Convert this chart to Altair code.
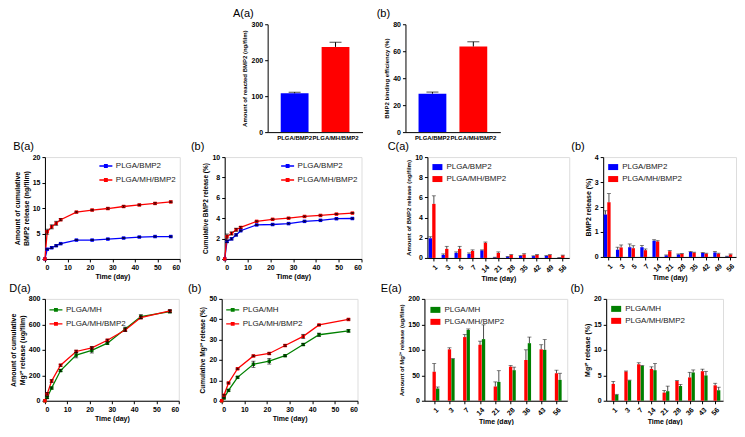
import altair as alt
import pandas as pd

FONT = "Liberation Sans"
BLUE = "#0000ff"
RED = "#ff0000"
GREEN = "#008000"

# ---------------- Panel A ----------------
a_groups = ["PLGA/BMP2", "PLGA/MH/BMP2"]
a_amount = [108, 237]
a_amount_err = [3, 13]
a_eff = [28.5, 63.5]
a_eff_err = [1.2, 3.5]

# ---------------- Panel B ----------------
b_days = [0, 1, 3, 5, 7, 14, 21, 28, 35, 42, 49, 56]
b_amt_plga = [0, 1.9, 2.2, 2.6, 3.0, 3.7, 3.7, 3.9, 4.1, 4.3, 4.4, 4.4]
b_amt_plga_err = [0, 0.1, 0.15, 0.15, 0.1, 0.1, 0.1, 0.1, 0.1, 0.1, 0.1, 0.1]
b_amt_mh = [0, 5.35, 6.3, 7.0, 7.7, 9.2, 9.6, 9.9, 10.3, 10.6, 10.9, 11.2]
b_amt_mh_err = [0, 0.5, 0.4, 0.4, 0.2, 0.15, 0.15, 0.15, 0.15, 0.15, 0.15, 0.15]
b_pct_plga = [0, 1.72, 1.97, 2.36, 2.77, 3.34, 3.38, 3.47, 3.69, 3.79, 3.95, 3.97]
b_pct_plga_err = [0, 0.1, 0.1, 0.1, 0.05, 0.05, 0.05, 0.05, 0.05, 0.05, 0.05, 0.05]
b_pct_mh = [0, 2.2, 2.5, 2.87, 3.09, 3.69, 3.89, 4.0, 4.17, 4.27, 4.4, 4.5]
b_pct_mh_err = [0, 0.25, 0.15, 0.15, 0.1, 0.05, 0.05, 0.05, 0.05, 0.05, 0.05, 0.05]

# ---------------- Panel C ----------------
c_days = [1, 3, 5, 7, 14, 21, 28, 35, 42, 49, 56]
c_amt_plga = [1.95, 0.3, 0.5, 0.4, 0.75, 0.05, 0.12, 0.2, 0.18, 0.2, 0.02]
c_amt_plga_err = [0.15, 0.1, 0.1, 0.1, 0.05, 0.02, 0.03, 0.05, 0.03, 0.03, 0.01]
c_amt_mh = [5.36, 0.9, 0.9, 0.7, 1.5, 0.5, 0.3, 0.35, 0.3, 0.3, 0.25]
c_amt_mh_err = [0.8, 0.25, 0.25, 0.1, 0.08, 0.1, 0.03, 0.07, 0.03, 0.03, 0.03]
c_pct_plga = [1.7, 0.29, 0.39, 0.39, 0.65, 0.06, 0.1, 0.2, 0.16, 0.18, 0.02]
c_pct_plga_err = [0.15, 0.1, 0.13, 0.07, 0.04, 0.02, 0.02, 0.02, 0.02, 0.04, 0.01]
c_pct_mh = [2.19, 0.38, 0.35, 0.27, 0.62, 0.23, 0.12, 0.17, 0.13, 0.13, 0.1]
c_pct_mh_err = [0.35, 0.1, 0.1, 0.05, 0.03, 0.03, 0.02, 0.02, 0.02, 0.02, 0.02]

# ---------------- Panel D ----------------
d_days = [0, 1, 3, 7, 14, 21, 28, 36, 43, 56]
d_amt_mh = [0, 26, 100, 237, 359, 395, 452, 563, 661, 700]
d_amt_mh_err = [0, 8, 8, 8, 22, 20, 8, 15, 15, 10]
d_amt_bmp = [0, 54, 155, 279, 387, 415, 475, 555, 653, 705]
d_amt_bmp_err = [0, 10, 10, 8, 10, 10, 8, 10, 10, 10]
d_pct_mh = [0, 1.3, 5.1, 11.5, 17.9, 19.4, 22.1, 27.6, 32.4, 34.3]
d_pct_mh_err = [0, 0.3, 0.4, 0.4, 1.5, 1.4, 0.4, 0.5, 0.8, 0.6]
d_pct_bmp = [0, 2.7, 8.7, 15.7, 22.0, 23.2, 27.1, 31.6, 37.2, 39.9]
d_pct_bmp_err = [0, 0.4, 0.4, 0.3, 0.4, 0.4, 0.4, 1.0, 0.3, 0.3]

# ---------------- Panel E ----------------
e_days = [1, 3, 7, 14, 21, 28, 36, 43, 56]
e_amt_mh = [24, 82, 139, 121, 37, 60, 113, 100, 41]
e_amt_mh_err = [3, 1, 2, 28, 22, 6, 12, 20, 13]
e_amt_bmp = [57, 101, 125, 110, 28, 67, 80, 101, 54]
e_amt_bmp_err = [16, 3, 5, 7, 9, 2, 20, 9, 6]
e_pct_mh = [1.16, 4.0, 6.84, 6.0, 1.87, 2.9, 5.55, 4.97, 2.06]
e_pct_mh_err = [0.1, 0.05, 0.1, 1.3, 1.0, 0.3, 0.5, 0.8, 0.6]
e_pct_bmp = [3.3, 5.74, 7.16, 6.26, 1.6, 3.87, 4.58, 5.8, 3.03]
e_pct_bmp_err = [0.5, 0.1, 0.3, 0.4, 0.4, 0.1, 1.0, 0.4, 0.4]

S_BMP = ["PLGA/BMP2", "PLGA/MH/BMP2"]
S_MG = ["PLGA/MH", "PLGA/MH/BMP2"]

LINE_SYMBOL = "M-1.3,0H1.3M-0.25,-0.25H0.25V0.25H-0.25Z"
BAR_SYMBOL = "M-1,-0.6H1V0.6H-1Z"

AX = dict(labelFont=FONT, titleFont=FONT, labelFontSize=7, titleFontSize=7,
          labelFontWeight="bold", titleFontWeight="bold", labelColor="black",
          titleColor="black", domainColor="black", tickColor="black",
          tickSize=3, labelPadding=2, titlePadding=3, grid=False)


def ptitle(text, dx):
    return alt.Title(text, anchor="start", frame="bounds", font=FONT, fontSize=11,
                     fontWeight="normal", color="black", offset=1, dx=dx)


def legend(orient, offset, symbol, sw=0):
    return alt.Legend(title=None, orient=orient, offset=offset,
                      symbolType=symbol, symbolSize=100, symbolStrokeWidth=sw,
                      labelFont=FONT, labelFontSize=8, labelColor="#222",
                      rowPadding=3, labelOffset=4, padding=0, symbolOpacity=1)


def indep(c):
    return c.resolve_scale(color="independent", x="independent", y="independent")


def a_panel(vals, errs, ytitle, ymax, yvals, title, dx):
    df = pd.DataFrame({"grp": a_groups, "value": vals,
                       "hi": [v + e for v, e in zip(vals, errs)]})
    ax_x = dict(AX)
    ax_x["labelFontSize"] = 6
    ax_y = dict(AX)
    ax_y["titleFontSize"] = 6
    x = alt.X("grp:N", sort=a_groups, title=None,
              scale=alt.Scale(paddingInner=0.32, paddingOuter=0.32),
              axis=alt.Axis(labelAngle=0, ticks=False, labelOverlap=False, **ax_x))
    yax = alt.Axis(values=yvals, title=ytitle, **ax_y)
    ysc = alt.Scale(domain=[0, ymax], nice=False)
    base = alt.Chart(df)
    bars = base.mark_bar().encode(
        x=x, y=alt.Y("value:Q", scale=ysc, axis=yax),
        color=alt.Color("grp:N", scale=alt.Scale(domain=a_groups, range=[BLUE, RED]), legend=None))
    rule = base.mark_rule(color="black", strokeWidth=1).encode(
        x=x, y=alt.Y("value:Q", scale=ysc, axis=yax), y2="hi:Q")
    cap = base.mark_tick(orient="horizontal", color="black", thickness=1, size=12).encode(
        x=x, y=alt.Y("hi:Q", scale=ysc, axis=yax))
    return alt.layer(bars, rule, cap).properties(
        width=95, height=108, title=ptitle(title, dx),
        view=alt.ViewBackground(stroke=None))


def line_panel(days, names, v1, e1, v2, e2, colors, ytitle, ymax, yvals,
               w, h, title, dx, lorient, loff, tsize=7):
    rows = []
    for name, vals, errs in ((names[0], v1, e1), (names[1], v2, e2)):
        for d, v, e in zip(days, vals, errs):
            rows.append(dict(day=d, value=v, lo=v - e, hi=v + e, series=name))
    df = pd.DataFrame(rows)
    ax_x = dict(AX)
    ax_x["titlePadding"] = 2
    x = alt.X("day:Q", scale=alt.Scale(domain=[0, 60], nice=False),
              axis=alt.Axis(values=[0, 10, 20, 30, 40, 50, 60], title="Time (day)", **ax_x))
    ysc = alt.Scale(domain=[0, ymax], nice=False)
    ax_y = dict(AX)
    ax_y["titleFontSize"] = tsize
    yax = alt.Axis(values=yvals, title=ytitle, **ax_y)
    lg = legend(lorient, loff, LINE_SYMBOL, 1.4)
    col = alt.Color("series:N", scale=alt.Scale(domain=names, range=colors), legend=lg)
    base = alt.Chart(df)
    line = base.mark_line(strokeWidth=1.3).encode(
        x=x, y=alt.Y("value:Q", scale=ysc, axis=yax), color=col)
    pts = base.mark_square(size=12, opacity=1).encode(
        x=x, y=alt.Y("value:Q", scale=ysc, axis=yax), color=col)
    eb = base.transform_filter("datum.hi > datum.lo")
    rule = eb.mark_rule(color="black", strokeWidth=0.8).encode(
        x=x, y=alt.Y("lo:Q", scale=ysc, axis=yax), y2="hi:Q")
    cap_hi = eb.mark_tick(orient="horizontal", color="black", thickness=0.8, size=4).encode(
        x=x, y=alt.Y("hi:Q", scale=ysc, axis=yax))
    cap_lo = eb.mark_tick(orient="horizontal", color="black", thickness=0.8, size=4).encode(
        x=x, y=alt.Y("lo:Q", scale=ysc, axis=yax))
    return alt.layer(line, pts, rule, cap_hi, cap_lo).properties(
        width=w, height=h, title=ptitle(title, dx))


def bar_panel(cats, names, v1, e1, v2, e2, colors, ytitle, ymax, yvals,
              w, h, title, dx, loff, pi, po, capw, ytitle_size=7):
    rows = []
    for name, vals, errs in ((names[0], v1, e1), (names[1], v2, e2)):
        for c, v, e in zip(cats, vals, errs):
            rows.append(dict(day=str(c), value=v, hi=v + e, series=name))
    df = pd.DataFrame(rows)
    order = [str(c) for c in cats]
    ax_x = dict(AX)
    ax_x["titlePadding"] = 1
    x = alt.X("day:N", sort=order, scale=alt.Scale(paddingInner=pi, paddingOuter=po),
              axis=alt.Axis(title="Time (day)", labelAngle=315, **ax_x))
    xo = alt.XOffset("series:N", sort=names, scale=alt.Scale(domain=names, paddingInner=0.05))
    ysc = alt.Scale(domain=[0, ymax], nice=False)
    ax_y = dict(AX)
    ax_y["titleFontSize"] = ytitle_size
    yax = alt.Axis(values=yvals, title=ytitle, **ax_y)
    cs = alt.Scale(domain=names, range=colors)
    base = alt.Chart(df)
    bars = base.mark_bar().encode(
        x=x, xOffset=xo, y=alt.Y("value:Q", scale=ysc, axis=yax),
        color=alt.Color("series:N", scale=cs, legend=legend("top-left", loff, BAR_SYMBOL)))
    rule = base.mark_rule(color="#222", strokeWidth=0.8).encode(
        x=x, xOffset=xo, y=alt.Y("value:Q", scale=ysc, axis=yax), y2="hi:Q")
    cap = base.mark_tick(orient="horizontal", color="#222", thickness=0.8, size=capw).encode(
        x=x, xOffset=xo, y=alt.Y("hi:Q", scale=ysc, axis=yax))
    return alt.layer(bars, rule, cap).properties(width=w, height=h, title=ptitle(title, dx))


Aa = a_panel(a_amount, a_amount_err, "Amount of reacted BMP2 (ng/film)", 300,
             [0, 100, 200, 300], "A(a)", -9)
Ab = a_panel(a_eff, a_eff_err, "BMP2 binding efficiency (%)", 80,
             [0, 20, 40, 60, 80], "(b)", -7)

spacer = alt.Chart(pd.DataFrame({"v": [0]})).mark_text(text="", size=1).encode(
    x=alt.value(0), y=alt.value(0)
).properties(width=168, height=1, view=alt.ViewBackground(stroke=None))

Ba = line_panel(b_days, S_BMP, b_amt_plga, b_amt_plga_err, b_amt_mh, b_amt_mh_err,
                [BLUE, RED], ["Amount of cumulative", "BMP2 release (ng/film)"], 20,
                [0, 5, 10, 15, 20], 135, 102, "B(a)", 0, "top-right", 3)
Bb = line_panel(b_days, S_BMP, b_pct_plga, b_pct_plga_err, b_pct_mh, b_pct_mh_err,
                [BLUE, RED], "Cumulative BMP2 release (%)", 10,
                [0, 2, 4, 6, 8, 10], 137, 102, "(b)", -12, "top-right", 3, 6.5)
Ca = bar_panel(c_days, S_BMP, c_amt_plga, c_amt_plga_err, c_amt_mh, c_amt_mh_err,
               [BLUE, RED], "Amount of BMP2 release (ng/film)", 10,
               [0, 2, 4, 6, 8, 10], 142, 101, "C(a)", -18, 5, 0.2, 0.1, 4, 6)
Cb = bar_panel(c_days, S_BMP, c_pct_plga, c_pct_plga_err, c_pct_mh, c_pct_mh_err,
               [BLUE, RED], "BMP2 release (%)", 4,
               [0, 1, 2, 3, 4], 133, 100, "(b)", -13, 5, 0.18, 0.05, 4)

Da = line_panel(d_days, S_MG, d_amt_mh, d_amt_mh_err, d_amt_bmp, d_amt_bmp_err,
                [GREEN, RED], ["Amount of cumulative", "Mg²⁺ release (ug/film)"], 800,
                [0, 200, 400, 600, 800], 134, 102, "D(a)", 0, "top-left", 5)
Db = line_panel(d_days, S_MG, d_pct_mh, d_pct_mh_err, d_pct_bmp, d_pct_bmp_err,
                [GREEN, RED], "Cumulative Mg²⁺ release (%)", 50,
                [0, 10, 20, 30, 40, 50], 136, 102, "(b)", -12, "top-left", 5, 6.5)
Ea = bar_panel(e_days, S_MG, e_amt_mh, e_amt_mh_err, e_amt_bmp, e_amt_bmp_err,
               [GREEN, RED], "Amount of Mg²⁺ release (ug/film)", 200,
               [0, 50, 100, 150, 200], 143, 102, "E(a)", -18, 6, 0.26, 0.3, 4, 6)
Eb = bar_panel(e_days, S_MG, e_pct_mh, e_pct_mh_err, e_pct_bmp, e_pct_bmp_err,
               [GREEN, RED], "Mg²⁺ release (%)", 20,
               [0, 5, 10, 15, 20], 117, 102, "(b)", -13, 5, 0.13, 0.15, 4)

row1 = indep(alt.hconcat(spacer, indep(alt.hconcat(Aa, Ab, spacing=14)), spacing=20))
row2 = indep(alt.hconcat(indep(alt.hconcat(Ba, Bb, spacing=9)),
                         indep(alt.hconcat(Ca, Cb, spacing=0)), spacing=24))
row3 = indep(alt.hconcat(indep(alt.hconcat(Da, Db, spacing=7)),
                         indep(alt.hconcat(Ea, Eb, spacing=1)), spacing=21))

chart = indep(alt.vconcat(row1, row2, row3, spacing=0)).configure_view(
    stroke="black", strokeWidth=1).configure(background="white").properties(
    padding={"left": 0, "top": 0, "right": 0, "bottom": 0})

chart.save("out.html", embed_options={"renderer": "svg", "actions": False})
